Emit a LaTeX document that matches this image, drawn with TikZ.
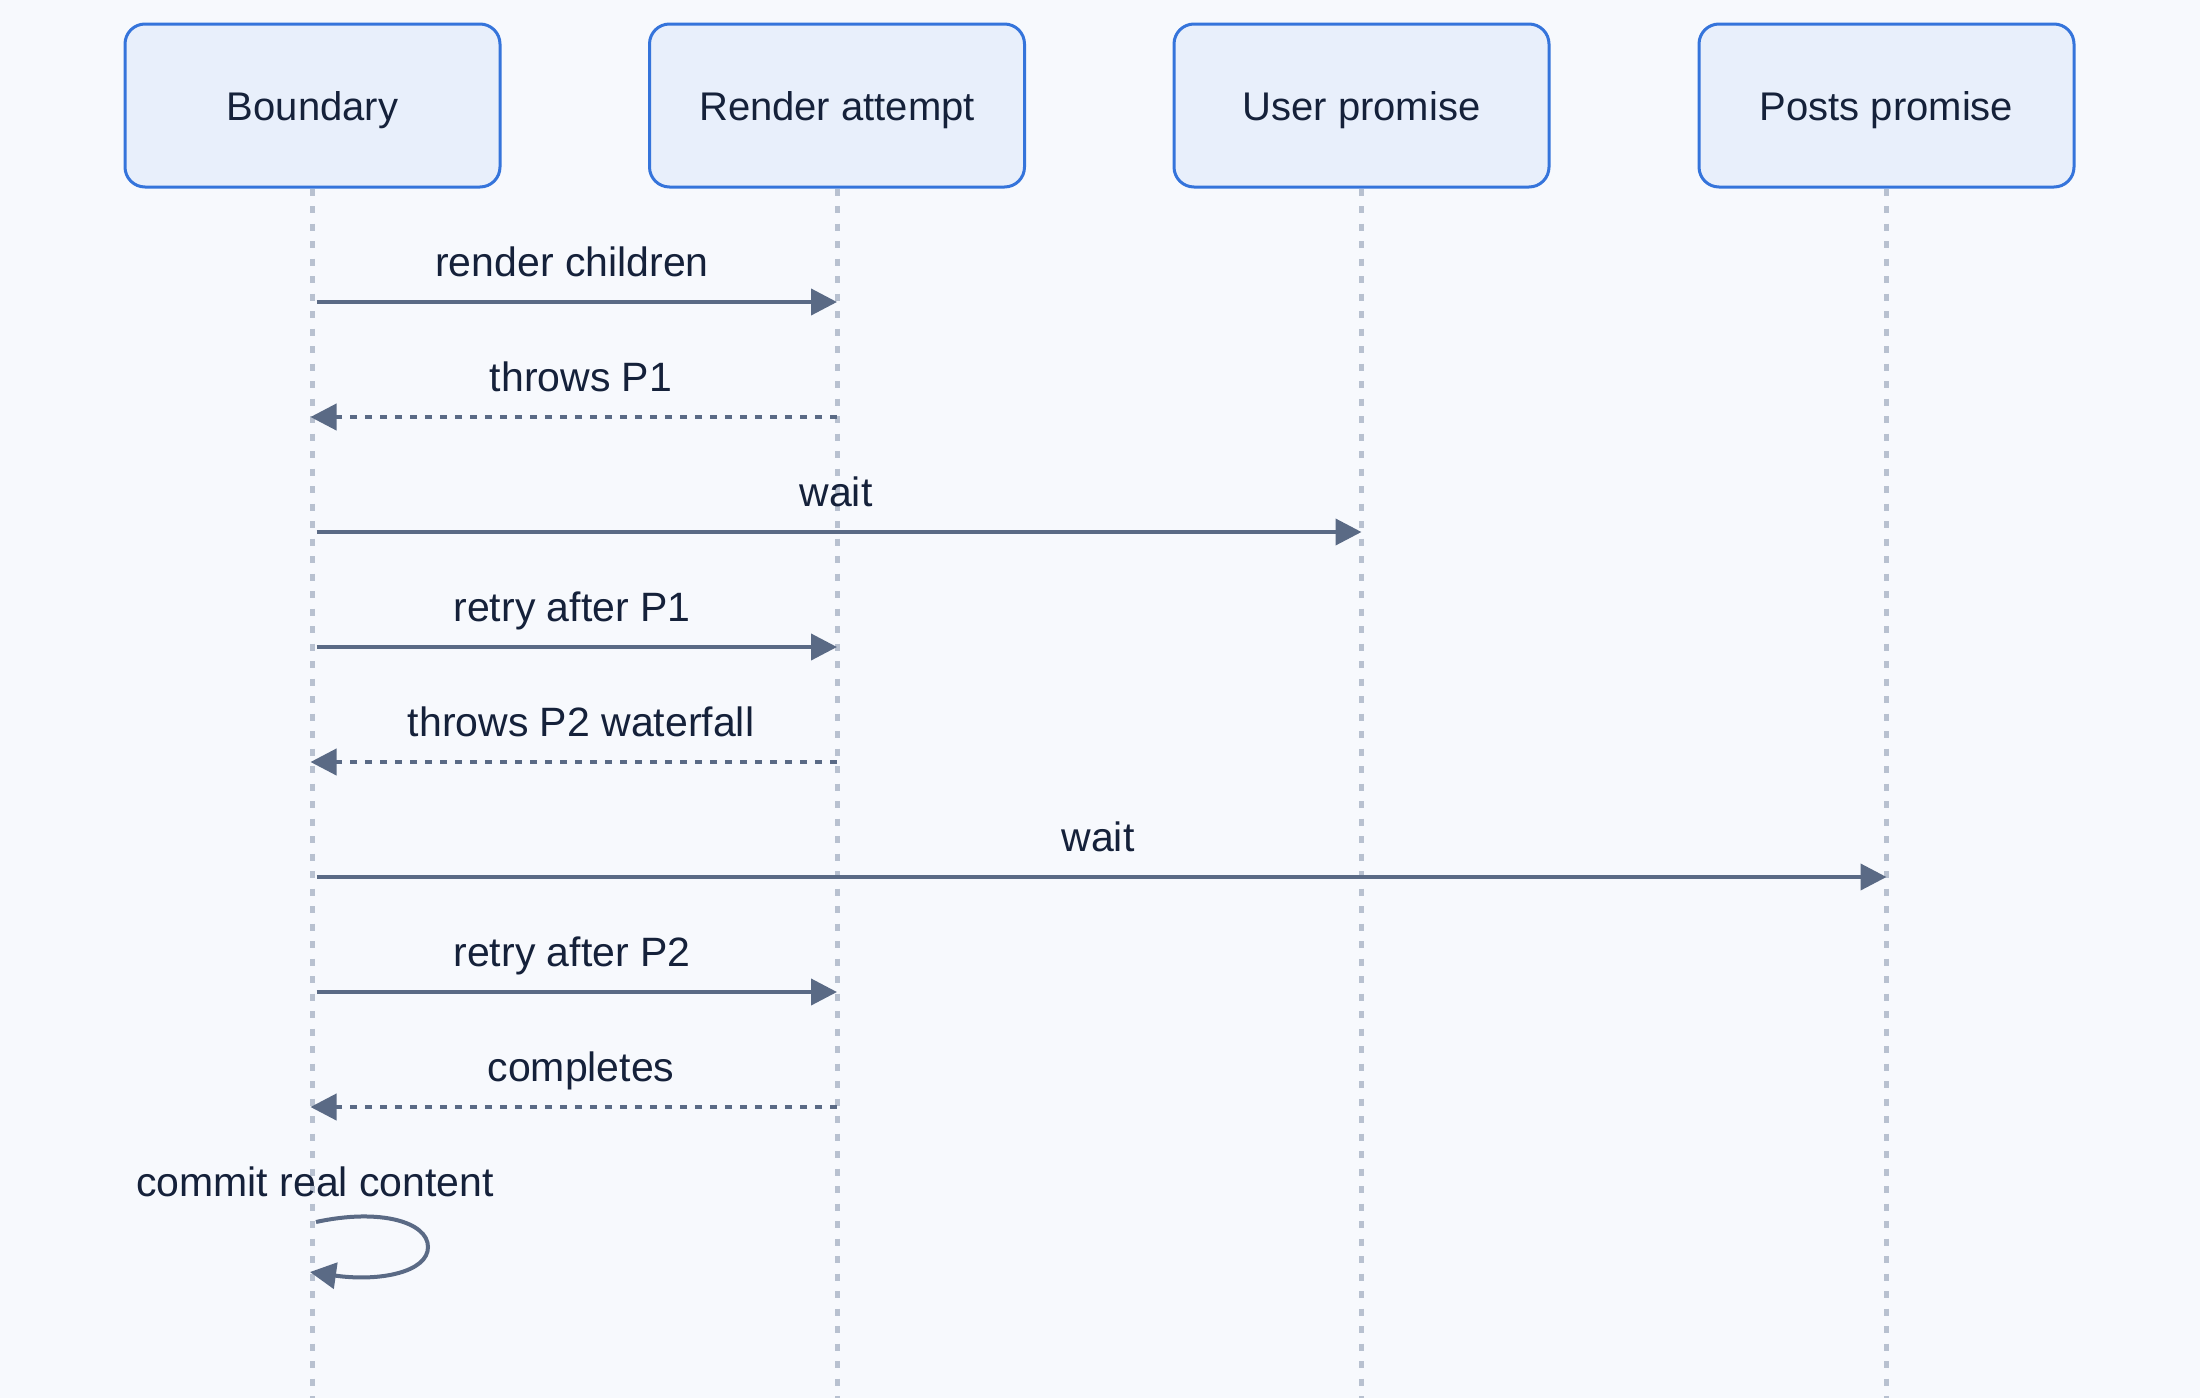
\documentclass[tikz,border=0pt]{standalone}
\usepackage{fontspec}
\setmainfont{Liberation Sans}
\usetikzlibrary{arrows.meta}
\definecolor{bg}{HTML}{F7F9FD}
\definecolor{boxfill}{HTML}{E8EFFB}
\definecolor{boxdraw}{HTML}{3574DB}
\definecolor{txt}{HTML}{15213A}
\definecolor{msg}{HTML}{5A6A85}
\definecolor{life}{HTML}{B8C1D0}
\begin{document}
\begin{tikzpicture}[x=0.5pt,y=-0.5pt,
  actor/.style={draw=boxdraw, fill=boxfill, line width=1.5pt, rounded corners=10pt,
    minimum width=187.5pt, minimum height=81.5pt, text=txt,
    font=\fontsize{20}{24}\selectfont, inner sep=0pt, text height=14.5pt, text depth=0pt},
  lifeline/.style={draw=life, line width=2.5pt, dash pattern=on 3.5pt off 5.25pt},
  msgline/.style={draw=msg, line width=2pt, -{Triangle[length=13pt,width=13pt]}},
  retline/.style={msgline, dash pattern=on 3.75pt off 3.75pt},
  lbl/.style={text=txt, font=\fontsize{20.5}{24}\selectfont, anchor=base, inner sep=0pt}]
\fill[bg] (0,0) rectangle (2200,1398);
\useasboundingbox (0,0) rectangle (2200,1398);

% actors
\node[actor] (bnd) at (312.5,105.5) {Boundary};
\node[actor] (ren) at (837,105.5) {Render attempt};
\node[actor] (usr) at (1361.5,105.5) {User promise};
\node[actor] (pst) at (1886.5,105.5) {Posts promise};

% lifeline ends
\coordinate (bndE) at (bnd.south |- 0,1398);
\coordinate (renE) at (ren.south |- 0,1398);
\coordinate (usrE) at (usr.south |- 0,1398);
\coordinate (pstE) at (pst.south |- 0,1398);
\draw[lifeline] (bnd.south) -- (bndE);
\draw[lifeline] (ren.south) -- (renE);
\draw[lifeline] (usr.south) -- (usrE);
\draw[lifeline] (pst.south) -- (pstE);

% message end points
\coordinate (b1) at (bnd |- 0,302);  \coordinate (r1) at (ren |- 0,302);
\coordinate (b2) at (bnd |- 0,417);  \coordinate (r2) at (ren |- 0,417);
\coordinate (b3) at (bnd |- 0,532);  \coordinate (u3) at (usr |- 0,532);
\coordinate (b4) at (bnd |- 0,647);  \coordinate (r4) at (ren |- 0,647);
\coordinate (b5) at (bnd |- 0,762);  \coordinate (r5) at (ren |- 0,762);
\coordinate (b6) at (bnd |- 0,877);  \coordinate (p6) at (pst |- 0,877);
\coordinate (b7) at (bnd |- 0,992);  \coordinate (r7) at (ren |- 0,992);
\coordinate (b8) at (bnd |- 0,1107); \coordinate (r8) at (ren |- 0,1107);
\coordinate (s1) at (316,1222);      \coordinate (s2) at (310,1272);

% messages
\draw[msgline, shorten <=2pt] (b1) -- (r1);
\node[lbl] (l1) at (572,276) {render children};
\draw[retline, shorten >=-1pt] (r2) -- (b2);
\node[lbl] (l2) at (581,391) {throws P1};
\draw[msgline, shorten <=2pt] (b3) -- (u3);
\node[lbl] (l3) at (836,506) {wait};
\draw[msgline, shorten <=2pt] (b4) -- (r4);
\node[lbl] (l4) at (572,621) {retry after P1};
\draw[retline, shorten >=-1pt] (r5) -- (b5);
\node[lbl] (l5) at (581,736) {throws P2 waterfall};
\draw[msgline, shorten <=2pt] (b6) -- (p6);
\node[lbl] (l6) at (1098,851) {wait};
\draw[msgline, shorten <=2pt] (b7) -- (r7);
\node[lbl] (l7) at (572,966) {retry after P2};
\draw[retline, shorten >=-1pt] (r8) -- (b8);
\node[lbl] (l8) at (581,1081) {completes};

% self message
\node[lbl] (l9) at (315,1196) {commit real content};
\draw[msgline] (s1) .. controls (380,1208) and (428,1222) .. (428,1247)
  .. controls (428,1272) and (380,1282) .. (s2);
\end{tikzpicture}
\end{document}
